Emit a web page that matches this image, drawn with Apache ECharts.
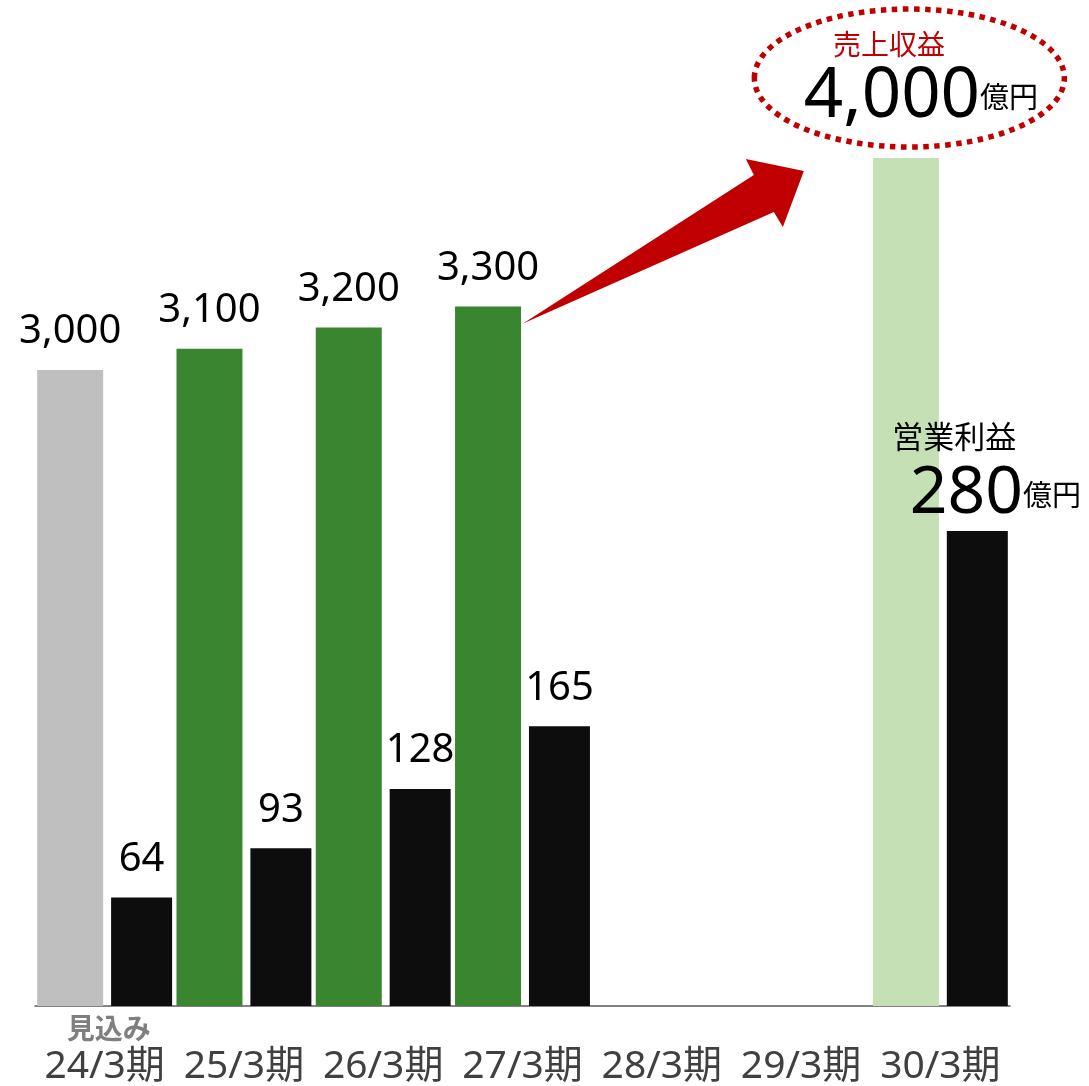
<!DOCTYPE html>
<html>
<head>
<meta charset="utf-8">
<script src="https://cdn.jsdelivr.net/npm/echarts@6/dist/echarts.min.js"></script>
<style>
html,body{margin:0;padding:0;background:#fff;}
#c{width:1089px;height:1086px;}
</style>
</head>
<body>
<div id="c"></div>
<script>
// ---- data ----
const categories = ['24/3期', '25/3期', '26/3期', '27/3期', '28/3期', '29/3期', '30/3期'];
const revenue = [3000, 3100, 3200, 3300, null, null, 4000];
const profit = [64, 93, 128, 165, null, null, 280];
const forecastIndex = 0;           // 見込み
const targetIndex = 6;             // 30/3期 target
const forecastNote = '見込み';
const revenueCalloutTitle = '売上収益';
const profitCalloutTitle = '営業利益';
const unitText = '億円';
const revenueAxisMax = 4000;
const profitAxisMax = 500;

// ---- styles ----
const NUM_FONT = '"Noto Sans", "Noto Sans CJK JP", sans-serif';
const CJK_FONT = '"Noto Sans CJK JP", "Noto Sans", sans-serif';
const revColors = ['#bfbfbf', '#3a852f', '#3a852f', '#3a852f', '#3a852f', '#3a852f', '#c5e0b4'];
const fmt = v => String(v).replace(/\B(?=(\d{3})+(?!\d))/g, ',');

const valueLabel = {
  show: true, position: 'top', distance: 18,
  fontFamily: NUM_FONT, fontSize: 40, lineHeight: 40, color: '#000',
  formatter: p => (p.value == null ? '' : fmt(p.value))
};

const revenueData = revenue.map((v, i) => {
  if (i === targetIndex) {
    return {
      value: v,
      label: {
        show: true, position: 'top', distance: 23, offset: [15, 0],
        formatter: '{t|' + revenueCalloutTitle + '}\n{n|' + fmt(v) + '}{u|' + unitText + '}',
        rich: {
          t: { fontFamily: CJK_FONT, fontSize: 28, color: '#c00000', lineHeight: 30, padding: [0, 64, 0, 0] },
          n: { fontFamily: NUM_FONT, fontSize: 69, color: '#000', lineHeight: 76 },
          u: { fontFamily: CJK_FONT, fontSize: 29, color: '#000' }
        }
      }
    };
  }
  return v;
});

const profitData = profit.map((v, i) => {
  if (i === targetIndex) {
    return {
      value: v,
      label: {
        show: true, position: 'top', distance: 0, offset: [18, 4],
        formatter: '{t|' + profitCalloutTitle + '}\n{n|' + fmt(v) + '}{u|' + unitText + '}',
        rich: {
          t: { fontFamily: CJK_FONT, fontSize: 31, color: '#000', lineHeight: 36, padding: [0, 82, 0, 0] },
          n: { fontFamily: NUM_FONT, fontSize: 66, color: '#000', lineHeight: 81 },
          u: { fontFamily: CJK_FONT, fontSize: 29, color: '#000' }
        }
      }
    };
  }
  return v;
});

const chart = echarts.init(document.getElementById('c'), null, { renderer: 'canvas' });

chart.setOption({
  animation: false,
  backgroundColor: '#fff',
  grid: { left: 35, right: 79, top: 158, bottom: 80, containLabel: false, outerBoundsMode: 'none' },
  xAxis: {
    type: 'category',
    data: categories,
    axisLine: { show: true, lineStyle: { color: '#595959', width: 1.5 } },
    axisTick: { show: false },
    axisLabel: {
      interval: 0, margin: 6,
      formatter: (val, idx) => (idx === forecastIndex ? '{s|' + forecastNote + '}' : '{s| }') + '\n{b|' + val + '}',
      rich: {
        s: { fontFamily: CJK_FONT, fontSize: 28, fontWeight: 'bold', color: '#7f7f7f', lineHeight: 32, padding: [0, 0, 0, 8] },
        b: { fontFamily: NUM_FONT, fontSize: 39, color: '#404040', lineHeight: 46 }
      }
    },
    splitLine: { show: false }
  },
  yAxis: [
    { type: 'value', min: 0, max: revenueAxisMax, show: false, splitLine: { show: false } },
    { type: 'value', min: 0, max: profitAxisMax, show: false, splitLine: { show: false } }
  ],
  series: [
    {
      name: '売上収益', type: 'bar', yAxisIndex: 0,
      barWidth: 66, barGap: '12%',
      data: revenueData,
      itemStyle: { color: p => revColors[p.dataIndex] },
      label: valueLabel
    },
    {
      name: '営業利益', type: 'bar', yAxisIndex: 1,
      barWidth: 61,
      data: profitData,
      itemStyle: { color: '#0d0d0d' },
      label: valueLabel
    }
  ]
});

// ---- decorations anchored to data positions ----
const p27 = chart.convertToPixel({ xAxisIndex: 0, yAxisIndex: 0 }, [3, revenue[3]]);
const p30 = chart.convertToPixel({ xAxisIndex: 0, yAxisIndex: 0 }, [targetIndex, revenue[targetIndex]]);
const rel = (p, dx, dy) => [p[0] + dx, p[1] + dy];

chart.setOption({
  graphic: [
    {
      type: 'polygon', z: 10,
      shape: {
        points: [
          rel(p27, 0.5, 17),
          rel(p30, -186.5, 17),
          rel(p30, -194.5, 1),
          rel(p30, -136.5, 13),
          rel(p30, -157.5, 69),
          rel(p30, -166.5, 54)
        ]
      },
      style: { fill: '#c00000' }
    },
    {
      type: 'ellipse', z: 10,
      shape: { cx: p30[0] - 31, cy: p30[1] - 80, rx: 155, ry: 69 },
      style: { fill: 'none', stroke: '#c00000', lineWidth: 5.5, lineDash: [5.5, 5.5], lineCap: 'butt' }
    }
  ]
});
</script>
</body>
</html>
